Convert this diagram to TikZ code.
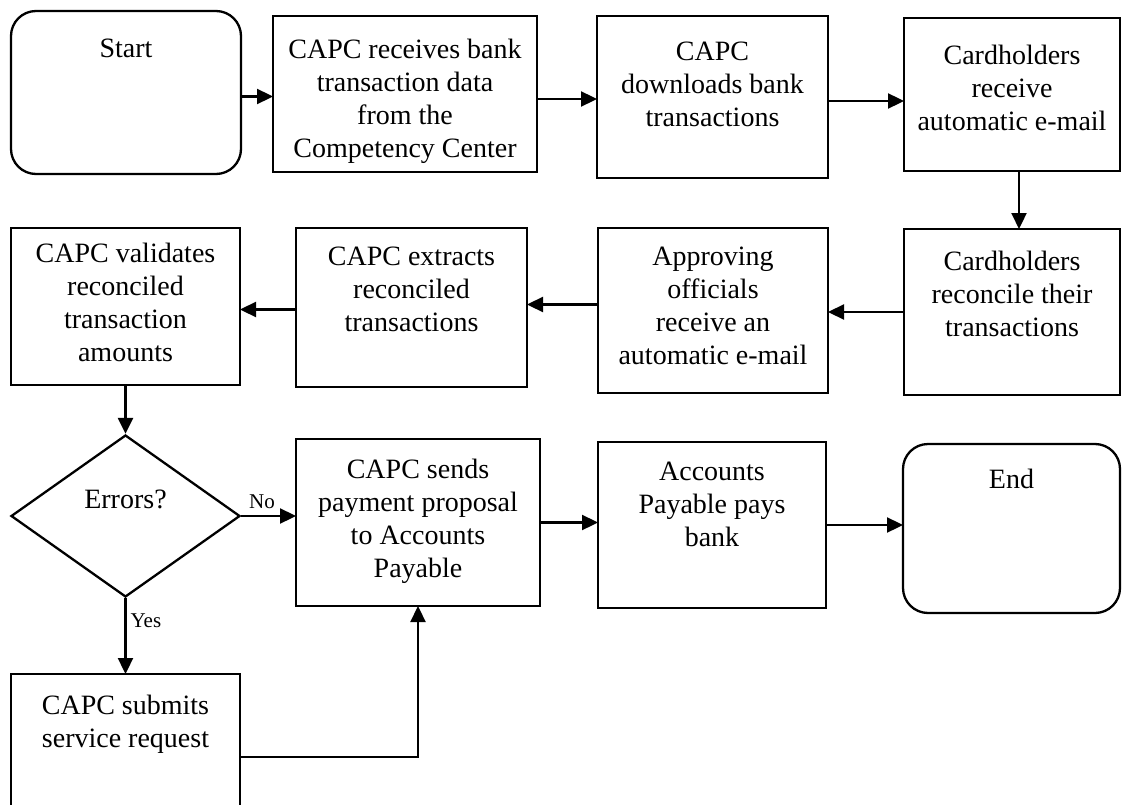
\documentclass[tikz,border=0pt]{standalone}
\usepackage{fontspec}
\setmainfont{Liberation Serif}
\usetikzlibrary{arrows.meta,shapes.geometric,calc}
\begin{document}
\begin{tikzpicture}[x={(1pt,0pt)},y={(0pt,-1pt)},
  box/.style={draw,line width=2.3pt,inner sep=0pt,outer sep=0pt},
  rbox/.style={box,rounded corners=25pt},
  txt/.style={anchor=north,align=center,inner sep=0pt,font=\fontsize{28}{33}\selectfont},
  lab/.style={inner sep=0pt,font=\fontsize{21}{24}\selectfont},
  arr/.style={line width=2.3pt,-{Triangle[length=16pt,width=15pt]}},
]
\useasboundingbox (0,0) rectangle (1126,805);
% row 1
\node[rbox,minimum width=230pt,minimum height=163pt] (start) at (126,92.5) {};
\node[box,minimum width=264pt,minimum height=156pt] (rcv) at (405,94) {};
\node[box,minimum width=231pt,minimum height=162pt] (dl) at (712.5,97) {};
\node[box,minimum width=216pt,minimum height=153pt] (crec) at (1012,94.5) {};
% row 2
\node[box,minimum width=229pt,minimum height=157pt] (val) at (125.5,306.5) {};
\node[box,minimum width=231pt,minimum height=159pt] (ext) at (411.5,307.5) {};
\node[box,minimum width=230pt,minimum height=165pt] (appr) at (713,310.5) {};
\node[box,minimum width=216pt,minimum height=166pt] (recon) at (1012,312) {};
% row 3
\node[draw,diamond,line width=2.3pt,inner sep=0pt,minimum width=229pt,minimum height=162pt] (dec) at (125.5,516) {};
\node[box,minimum width=244pt,minimum height=167pt] (sends) at (418,522.5) {};
\node[box,minimum width=228pt,minimum height=166pt] (acc) at (712,525) {};
\node[rbox,minimum width=217pt,minimum height=169pt] (end) at (1011.5,528.5) {};
\node[box,minimum width=229pt,minimum height=134pt] (subm) at (125.5,741) {};
% texts
\node[txt] (startT) at ([yshift=-28pt]start.north) {Start};
\node[txt] (rcvT) at ([yshift=-23pt]rcv.north) {CAPC receives bank\\transaction data\\from the\\Competency Center};
\node[txt] (dlT) at ([yshift=-26pt]dl.north) {CAPC\\downloads bank\\transactions};
\node[txt] (crecT) at ([yshift=-27pt]crec.north) {Cardholders\\receive\\automatic e-mail};
\node[txt] (valT) at ([yshift=-15pt]val.north) {CAPC validates\\reconciled\\transaction\\amounts};
\node[txt] (extT) at ([yshift=-19pt]ext.north) {CAPC extracts\\reconciled\\transactions};
\node[txt] (apprT) at ([yshift=-19pt]appr.north) {Approving\\officials\\receive an\\automatic e-mail};
\node[txt] (reconT) at ([yshift=-22pt]recon.north) {Cardholders\\reconcile their\\transactions};
\node[txt] (decT) at ([yshift=-56pt]dec.north) {Errors?};
\node[txt] (sendsT) at ([yshift=-20pt]sends.north) {CAPC sends\\payment proposal\\to Accounts\\Payable};
\node[txt] (accT) at ([yshift=-20pt]acc.north) {Accounts\\Payable pays\\bank};
\node[txt] (endT) at ([yshift=-25pt]end.north) {End};
\node[txt] (submT) at ([yshift=-21pt]subm.north) {CAPC submits\\service request};
% connectors
\draw[arr] ([yshift=-4pt]start.east) -- ([yshift=-4pt]start.east -| rcv.west);
\draw[arr] ([yshift=-5pt]rcv.east) -- ([yshift=-5pt]rcv.east -| dl.west);
\draw[arr] ([yshift=-4pt]dl.east) -- ([yshift=-4pt]dl.east -| crec.west);
\draw[arr] ([xshift=7pt]crec.south) -- ([xshift=7pt]crec.south |- recon.north);
\draw[arr] (recon.west) -- (recon.west -| appr.east);
\draw[arr] ([yshift=6pt]appr.west) -- ([yshift=6pt]appr.west -| ext.east);
\draw[arr] ([yshift=-2pt]ext.west) -- ([yshift=-2pt]ext.west -| val.east);
\draw[arr] (val.south) -- (dec.north);
\draw[arr] (dec.east) -- node[lab,above=6pt,pos=0.38] (noL) {No} (dec.east -| sends.west);
\draw[arr] (dec.south) -- node[lab,right=4pt,pos=0.3] (yesL) {Yes} (subm.north);
\draw[arr] (sends.east) -- (sends.east -| acc.west);
\draw[arr] (acc.east) -- (acc.east -| end.west);
\draw[arr] ([yshift=-16pt]subm.east) -| (sends.south);
\end{tikzpicture}
\end{document}
